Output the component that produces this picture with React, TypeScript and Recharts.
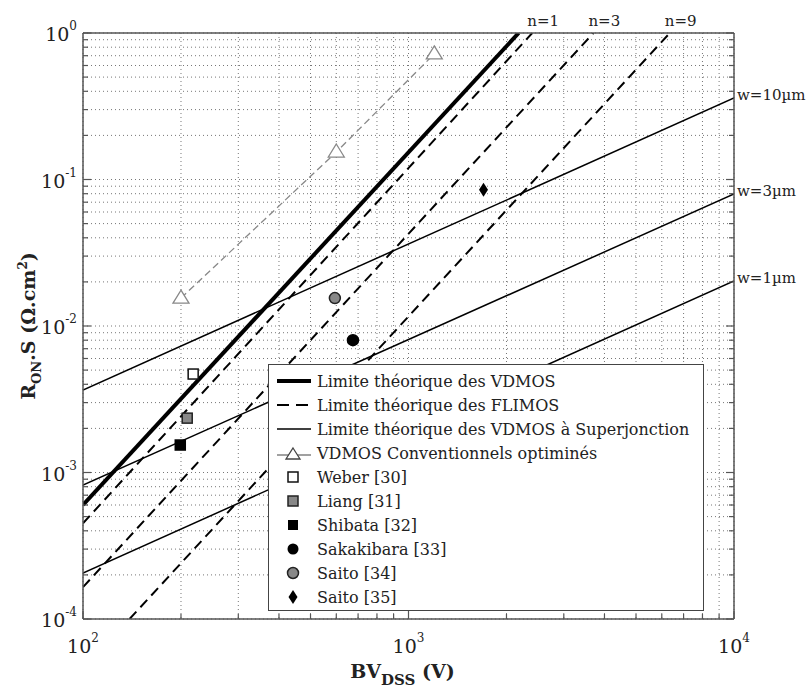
import { ComposedChart, Line, Scatter, XAxis, YAxis, CartesianGrid, Legend } from 'recharts'

const FONT = "'DejaVu Serif', serif"

// axis ticks (log decades + minor ticks)
const xTicks = [100, 200, 300, 400, 500, 600, 700, 800, 900, 1000, 2000, 3000, 4000, 5000, 6000, 7000, 8000, 9000, 10000]
const yTicks = [
  0.0001, 0.0002, 0.0003, 0.0004, 0.0005, 0.0006, 0.0007, 0.0008, 0.0009,
  0.001, 0.002, 0.003, 0.004, 0.005, 0.006, 0.007, 0.008, 0.009,
  0.01, 0.02, 0.03, 0.04, 0.05, 0.06, 0.07, 0.08, 0.09,
  0.1, 0.2, 0.3, 0.4, 0.5, 0.6, 0.7, 0.8, 0.9, 1,
]

// theoretical limits (end points)
const vdmosLimit = [{ x: 100, y: 6.0e-4 }, { x: 2180, y: 1 }]
const flimosN1 = [{ x: 100, y: 4.5e-4 }, { x: 2400, y: 1 }]
const flimosN3 = [{ x: 100, y: 1.65e-4 }, { x: 3700, y: 1 }]
const flimosN9 = [{ x: 139, y: 1e-4 }, { x: 6350, y: 1 }]
const sjW10 = [{ x: 100, y: 3.66e-3 }, { x: 10000, y: 0.36 }]
const sjW3 = [{ x: 100, y: 8.2e-4 }, { x: 10000, y: 0.0796 }]
const sjW1 = [{ x: 100, y: 2.06e-4 }, { x: 10000, y: 0.0203 }]
const vdmosConv = [{ x: 200, y: 0.0155 }, { x: 600, y: 0.154 }, { x: 1200, y: 0.72 }]

// published devices
const weber = [{ x: 218, y: 4.7e-3 }]
const liang = [{ x: 209, y: 2.35e-3 }]
const shibata = [{ x: 199, y: 1.54e-3 }]
const sakakibara = [{ x: 675, y: 8.0e-3 }]
const saito34 = [{ x: 594, y: 0.0155 }]
const saito35 = [{ x: 1700, y: 0.085 }]

const nLabels = ['n=1', 'n=3', 'n=9']
const wLabels = ['w=10\u00b5m', 'w=3\u00b5m', 'w=1\u00b5m']

const legendRows = [
  { label: 'Limite théorique des VDMOS', icon: 'thick' },
  { label: 'Limite théorique des FLIMOS', icon: 'dash' },
  { label: 'Limite théorique des VDMOS à Superjonction', icon: 'thin' },
  { label: 'VDMOS Conventionnels optiminés', icon: 'tri' },
  { label: 'Weber [30]', icon: 'sqWhite' },
  { label: 'Liang [31]', icon: 'sqGray' },
  { label: 'Shibata [32]', icon: 'sqBlack' },
  { label: 'Sakakibara [33]', icon: 'cBlack' },
  { label: 'Saito [34]', icon: 'cGray' },
  { label: 'Saito [35]', icon: 'diamond' },
]

const isDecade = (v: number) => Math.abs(Math.log10(v) - Math.round(Math.log10(v))) < 1e-6

const XTick = ({ x, y, payload }: any) => {
  const major = isDecade(payload.value)
  return (
    <g>
      <line x1={x} y1={y} x2={x} y2={y - (major ? 8 : 5)} stroke='#555' strokeWidth={1.2} />
      {major && (
        <text x={x} y={y + 34} textAnchor='middle' fontSize={19} fontFamily={FONT} fill='#222'>
          10<tspan dy={-11} fontSize={12}>{Math.round(Math.log10(payload.value))}</tspan>
        </text>
      )}
    </g>
  )
}

const XTopTick = ({ x, y, payload }: any) => {
  const major = isDecade(payload.value)
  return <line x1={x} y1={y} x2={x} y2={y + (major ? 8 : 5)} stroke='#555' strokeWidth={1.2} />
}

const YTick = ({ x, y, payload }: any) => {
  const major = isDecade(payload.value)
  return (
    <g>
      <line x1={x} y1={y} x2={x + (major ? 8 : 5)} y2={y} stroke='#555' strokeWidth={1.2} />
      {major && (
        <text x={x - 6} y={y + 8} textAnchor='end' fontSize={19} fontFamily={FONT} fill='#222'>
          10<tspan dy={-11} fontSize={12}>{Math.round(Math.log10(payload.value))}</tspan>
        </text>
      )}
    </g>
  )
}

const YRightTick = ({ x, y, payload }: any) => {
  const major = isDecade(payload.value)
  return <line x1={x} y1={y} x2={x - (major ? 8 : 5)} y2={y} stroke='#555' strokeWidth={1.2} />
}

const XTitle = ({ viewBox }: any) => {
  const cx = viewBox.x + viewBox.width / 2 - 6
  return (
    <text x={cx} y={619 + 59} textAnchor='middle' fontFamily={FONT} fontWeight='bold' fontSize={19} fill='#222'>
      BV<tspan dy={7} fontSize={15}>DSS</tspan><tspan dy={-7}> (V)</tspan>
    </text>
  )
}

const YTitle = ({ viewBox }: any) => {
  const cx = 35
  const cy = viewBox.y + viewBox.height / 2
  return (
    <text x={cx} y={cy} transform={`rotate(-90, ${cx}, ${cy})`} textAnchor='middle' fontFamily={FONT} fontWeight='bold' fontSize={19} fill='#222'>
      R<tspan dy={6} fontSize={13}>ON</tspan><tspan dy={-6}>.S (Ω.cm</tspan><tspan dy={-8} fontSize={12}>2</tspan><tspan dy={8}>)</tspan>
    </text>
  )
}

const topLabel = (text: string) => (props: any) => {
  const { x, y, index } = props
  if (index !== 1) return null
  return (
    <text x={x - 5} y={y - 7} textAnchor='start' fontFamily={FONT} fontSize={15} fill='#222'>
      {text}
    </text>
  )
}

const rightLabel = (text: string) => (props: any) => {
  const { x, y, index } = props
  if (index !== 1) return null
  return (
    <text x={x + 3} y={y - 2} textAnchor='start' dominantBaseline='middle' fontFamily={FONT} fontSize={15} fill='#222'>
      {text}
    </text>
  )
}

const Triangle = ({ cx, cy }: any) => (
  <polygon points={`${cx},${cy - 8} ${cx + 8},${cy + 5} ${cx - 8},${cy + 5}`} fill='#fff' stroke='#888' strokeWidth={1.3} />
)

const Square = (fill: string, stroke: string) => ({ cx, cy }: any) => (
  <rect x={cx - 5} y={cy - 5} width={10} height={10} fill={fill} stroke={stroke} strokeWidth={1.5} />
)

const Circle = (fill: string, stroke: string) => ({ cx, cy }: any) => (
  <circle cx={cx} cy={cy} r={5.5} fill={fill} stroke={stroke} strokeWidth={1.5} />
)

const Diamond = ({ cx, cy }: any) => (
  <polygon points={`${cx},${cy - 7} ${cx + 4.5},${cy} ${cx},${cy + 7} ${cx - 4.5},${cy}`} fill='#000' />
)

const LegendIcon = ({ kind }: { kind: string }) => {
  const c = 24
  const m = 12
  let el: any = null
  if (kind === 'thick') el = <line x1={8} y1={m} x2={42} y2={m} stroke='#000' strokeWidth={4} />
  if (kind === 'dash') el = <line x1={8} y1={m} x2={42} y2={m} stroke='#000' strokeWidth={2} strokeDasharray='12 7' />
  if (kind === 'thin') el = <line x1={8} y1={m} x2={42} y2={m} stroke='#000' strokeWidth={1.5} />
  if (kind === 'tri')
    el = (
      <g>
        <line x1={8} y1={m + 2} x2={42} y2={m + 2} stroke='#444' strokeWidth={1.2} />
        <polygon points={`${c},${m - 5} ${c + 7},${m + 6} ${c - 7},${m + 6}`} fill='#fff' stroke='#444' strokeWidth={1.3} />
      </g>
    )
  if (kind === 'sqWhite') el = <rect x={c - 5} y={m - 5} width={10} height={10} fill='#fff' stroke='#111' strokeWidth={1.5} />
  if (kind === 'sqGray') el = <rect x={c - 5} y={m - 5} width={10} height={10} fill='#888' stroke='#222' strokeWidth={1.5} />
  if (kind === 'sqBlack') el = <rect x={c - 5} y={m - 5} width={10} height={10} fill='#000' />
  if (kind === 'cBlack') el = <circle cx={c} cy={m} r={5.5} fill='#000' />
  if (kind === 'cGray') el = <circle cx={c} cy={m} r={5.5} fill='#888' stroke='#222' strokeWidth={1.5} />
  if (kind === 'diamond') el = <polygon points={`${c},${m - 7} ${c + 4.5},${m} ${c},${m + 7} ${c - 4.5},${m}`} fill='#000' />
  return (
    <svg width={48} height={24} style={{ display: 'block', flex: 'none' }}>
      {el}
    </svg>
  )
}

const LegendBox = () => (
  <div
    style={{
      boxSizing: 'border-box',
      width: 436,
      height: 247,
      border: '1.5px solid #444',
      background: '#fff',
      paddingTop: 4,
      fontFamily: FONT,
      fontSize: 16,
      color: '#222',
    }}
  >
    {legendRows.map((r) => (
      <div key={r.label} style={{ display: 'flex', alignItems: 'center', height: 24 }}>
        <LegendIcon kind={r.icon} />
        <span style={{ whiteSpace: 'nowrap' }}>{r.label}</span>
      </div>
    ))}
  </div>
)

export default function App() {
  return (
    <div style={{ position: 'absolute', left: 0, top: 0, background: '#fff' }}>
      <ComposedChart width={810} height={689} margin={{ top: 32, right: 75, bottom: 69, left: 82 }}>
        <CartesianGrid stroke='#777' strokeDasharray='1 3' strokeWidth={1} />
        <XAxis
          xAxisId={0}
          dataKey='x'
          type='number'
          scale='log'
          domain={[100, 10000]}
          allowDataOverflow
          ticks={xTicks}
          interval={0}
          height={1}
          tickSize={0}
          tickMargin={0}
          tickLine={false}
          tick={<XTick />}
          axisLine={{ stroke: '#555', strokeWidth: 1.5 }}
          label={{ content: <XTitle /> } as any}
        />
        <XAxis
          xAxisId='top'
          orientation='top'
          type='number'
          scale='log'
          domain={[100, 10000]}
          allowDataOverflow
          ticks={xTicks}
          interval={0}
          height={1}
          tickSize={0}
          tickMargin={0}
          tickLine={false}
          tick={<XTopTick />}
          axisLine={{ stroke: '#555', strokeWidth: 1.5 }}
        />
        <YAxis
          yAxisId={0}
          dataKey='y'
          type='number'
          scale='log'
          domain={[0.0001, 1]}
          allowDataOverflow
          ticks={yTicks}
          interval={0}
          width={1}
          tickSize={0}
          tickMargin={0}
          tickLine={false}
          tick={<YTick />}
          axisLine={{ stroke: '#555', strokeWidth: 1.5 }}
          label={{ content: <YTitle /> } as any}
        />
        <YAxis
          yAxisId='right'
          orientation='right'
          type='number'
          scale='log'
          domain={[0.0001, 1]}
          allowDataOverflow
          ticks={yTicks}
          interval={0}
          width={1}
          tickSize={0}
          tickMargin={0}
          tickLine={false}
          tick={<YRightTick />}
          axisLine={{ stroke: '#555', strokeWidth: 1.5 }}
        />

        <Line data={sjW10} dataKey='y' stroke='#000' strokeWidth={1.5} dot={false} isAnimationActive={false} label={rightLabel(wLabels[0])} />
        <Line data={sjW3} dataKey='y' stroke='#000' strokeWidth={1.5} dot={false} isAnimationActive={false} label={rightLabel(wLabels[1])} />
        <Line data={sjW1} dataKey='y' stroke='#000' strokeWidth={1.5} dot={false} isAnimationActive={false} label={rightLabel(wLabels[2])} />
        <Line data={flimosN1} dataKey='y' stroke='#000' strokeWidth={2} strokeDasharray='10 6' dot={false} isAnimationActive={false} label={topLabel(nLabels[0])} />
        <Line data={flimosN3} dataKey='y' stroke='#000' strokeWidth={2} strokeDasharray='10 6' dot={false} isAnimationActive={false} label={topLabel(nLabels[1])} />
        <Line data={flimosN9} dataKey='y' stroke='#000' strokeWidth={2} strokeDasharray='10 6' dot={false} isAnimationActive={false} label={topLabel(nLabels[2])} />
        <Line data={vdmosLimit} dataKey='y' stroke='#000' strokeWidth={4} dot={false} isAnimationActive={false} />
        <Line data={vdmosConv} dataKey='y' stroke='#888' strokeWidth={1.3} strokeDasharray='7 4' dot={<Triangle />} isAnimationActive={false} />

        <Scatter data={weber} dataKey='y' shape={Square('#fff', '#111')} isAnimationActive={false} />
        <Scatter data={liang} dataKey='y' shape={Square('#888', '#222')} isAnimationActive={false} />
        <Scatter data={shibata} dataKey='y' shape={Square('#000', '#000')} isAnimationActive={false} />
        <Scatter data={sakakibara} dataKey='y' shape={Circle('#000', '#000')} isAnimationActive={false} />
        <Scatter data={saito34} dataKey='y' shape={Circle('#888', '#222')} isAnimationActive={false} />
        <Scatter data={saito35} dataKey='y' shape={Diamond} isAnimationActive={false} />

        <Legend
          layout='vertical'
          align='center'
          verticalAlign='middle'
          wrapperStyle={{ left: 268, top: 364, width: 436, height: 247 }}
          content={() => <LegendBox />}
        />
      </ComposedChart>
    </div>
  )
}
